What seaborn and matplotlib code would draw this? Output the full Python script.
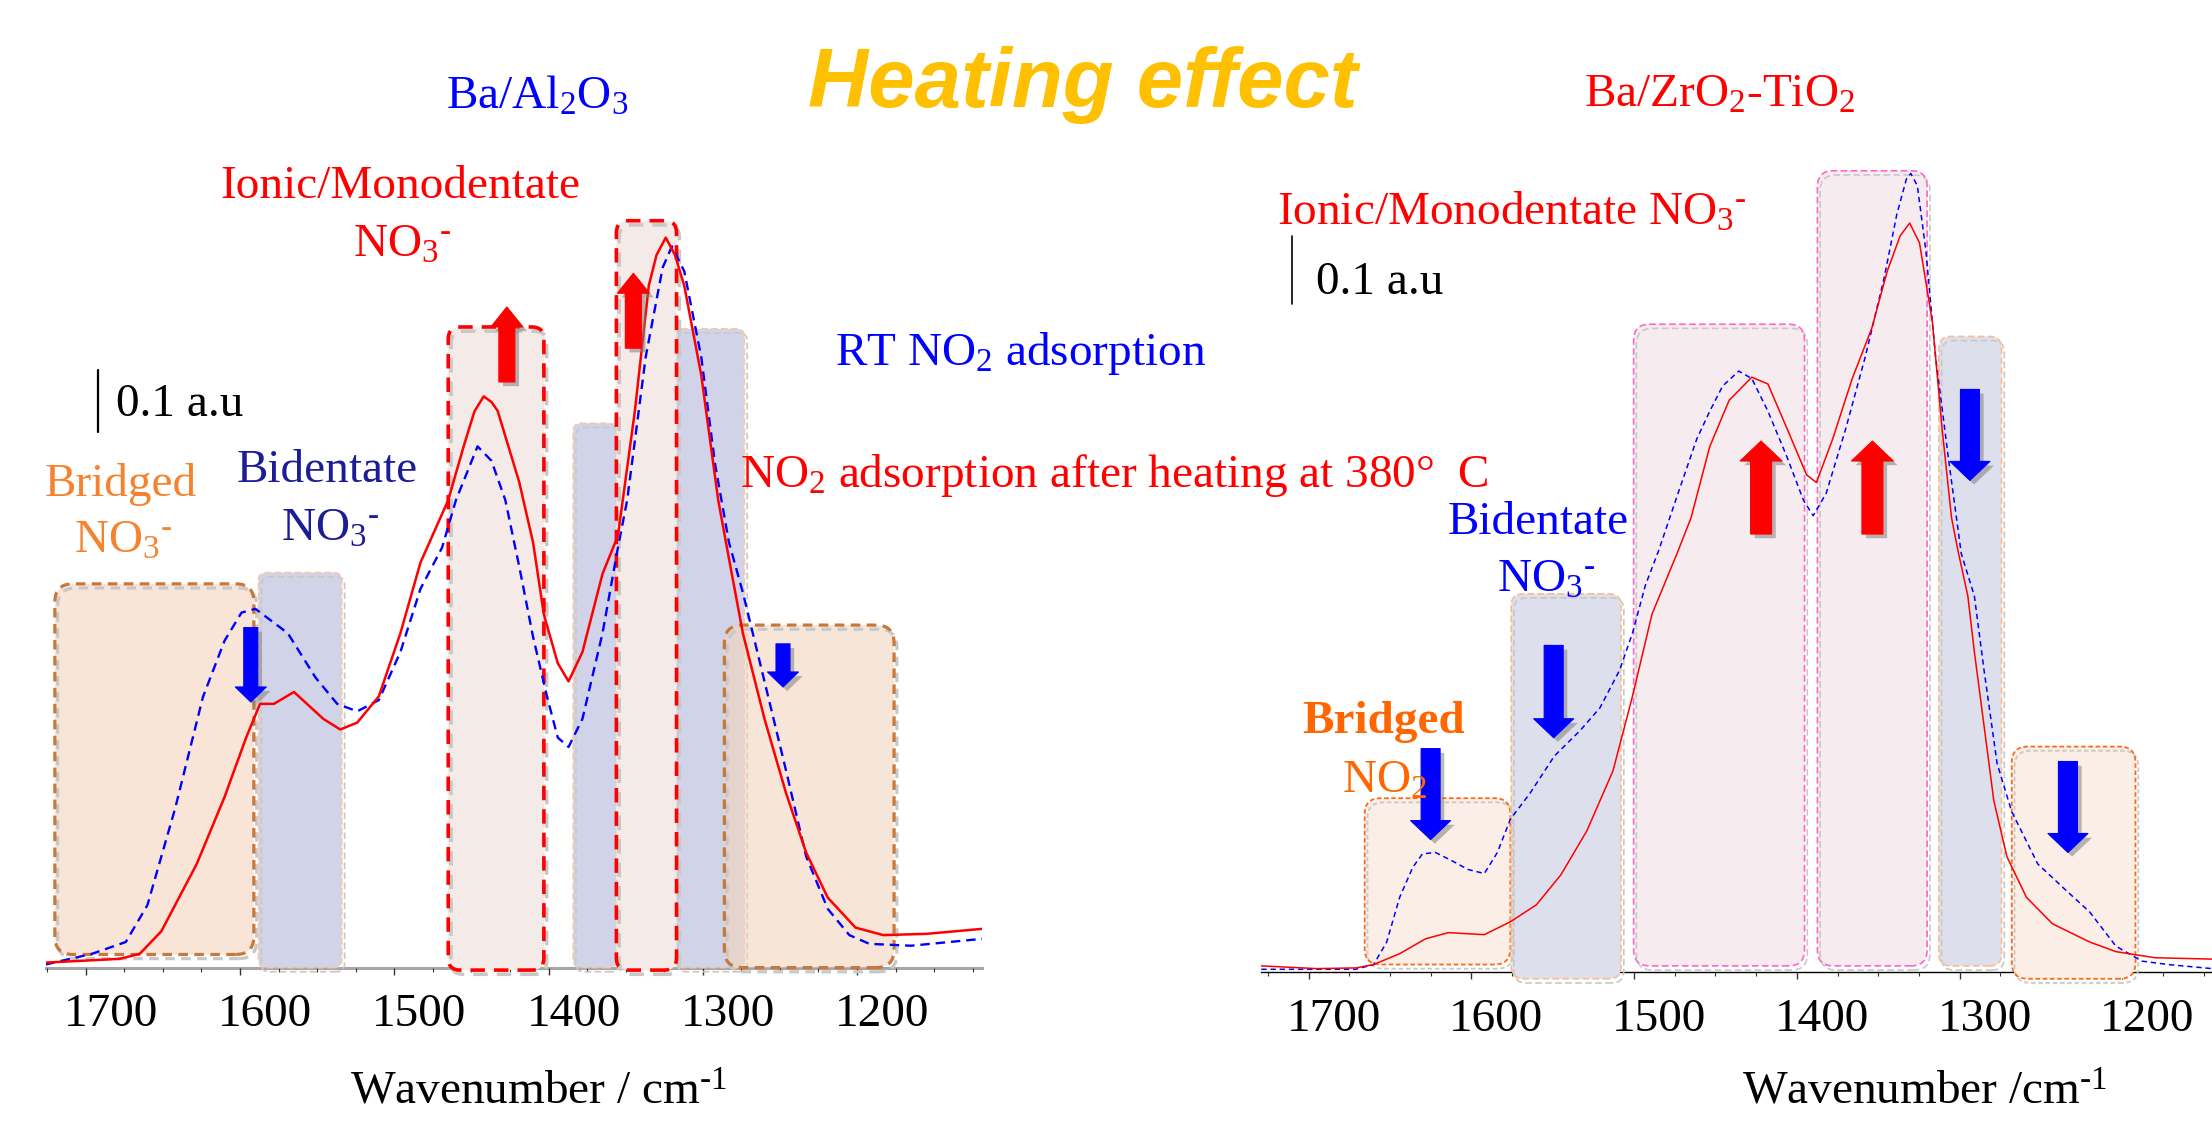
import matplotlib
matplotlib.use("Agg")
import numpy as np
import pandas as pd
import matplotlib.pyplot as plt
import seaborn as sns
from matplotlib.patches import FancyBboxPatch, FancyArrowPatch
from matplotlib.lines import Line2D
from matplotlib.ticker import MultipleLocator, FixedLocator
import matplotlib.transforms as mtransforms
import matplotlib.patheffects as pe

# ---------------- data ----------------
# Left panel: Ba/Al2O3
L_RED_WN = [1726, 1678, 1665, 1651, 1628, 1610, 1596, 1587, 1578, 1565, 1546, 1535, 1524, 1510,
            1496, 1483, 1465, 1455, 1448, 1442, 1437, 1433, 1419, 1410, 1403, 1394, 1387, 1378,
            1365, 1355, 1344, 1335, 1330, 1324, 1318, 1312, 1301, 1290, 1283, 1274, 1260, 1246,
            1233, 1219, 1201, 1183, 1155, 1119]
L_RED = [0.008, 0.014, 0.022, 0.058, 0.166, 0.273, 0.368, 0.422, 0.422, 0.441, 0.398, 0.381, 0.392, 0.434,
         0.535, 0.648, 0.748, 0.834, 0.890, 0.914, 0.905, 0.891, 0.777, 0.680, 0.565, 0.487, 0.458, 0.505,
         0.630, 0.691, 0.891, 1.091, 1.140, 1.168, 1.140, 1.091, 0.948, 0.748, 0.654, 0.535, 0.398, 0.279,
         0.184, 0.112, 0.064, 0.052, 0.054, 0.062]
L_BLUE_WN = [1726, 1696, 1674, 1660, 1642, 1624, 1610, 1599, 1590, 1569, 1551, 1537, 1524, 1510,
             1496, 1483, 1469, 1460, 1446, 1437, 1428, 1419, 1410, 1401, 1394, 1387, 1378, 1365,
             1355, 1349, 1337, 1326, 1320, 1312, 1301, 1292, 1283, 1274, 1260, 1246, 1233, 1219,
             1205, 1192, 1165, 1119]
L_BLUE = [0.005, 0.022, 0.041, 0.100, 0.255, 0.433, 0.523, 0.568, 0.574, 0.535, 0.464, 0.422, 0.410, 0.428,
          0.505, 0.606, 0.672, 0.748, 0.834, 0.811, 0.748, 0.642, 0.529, 0.434, 0.368, 0.353, 0.398, 0.535,
          0.672, 0.748, 0.977, 1.120, 1.154, 1.114, 0.977, 0.805, 0.680, 0.600, 0.458, 0.315, 0.178, 0.094,
          0.052, 0.038, 0.035, 0.046]

# Right panel: Ba/ZrO2-TiO2
R_RED_WN = [1729, 1695, 1671, 1660, 1644, 1628, 1614, 1592, 1576, 1560, 1545, 1529, 1513, 1501,
            1489, 1473, 1465, 1453.5, 1441.6, 1427.7, 1417.8, 1406, 1394, 1388, 1378, 1366, 1354,
            1344.5, 1336.6, 1330.7, 1324.7, 1316.8, 1310.8, 1305, 1301, 1295, 1291, 1285, 1279,
            1271, 1259, 1243, 1220, 1204, 1180, 1145]
R_RED = [0.009, 0.005, 0.006, 0.011, 0.027, 0.049, 0.058, 0.055, 0.074, 0.099, 0.143, 0.208, 0.296, 0.406,
         0.527, 0.620, 0.669, 0.774, 0.842, 0.876, 0.866, 0.800, 0.732, 0.721, 0.785, 0.874, 0.948,
         1.032, 1.084, 1.103, 1.074, 0.958, 0.800, 0.669, 0.620, 0.554, 0.472, 0.362, 0.252,
         0.170, 0.110, 0.071, 0.044, 0.030, 0.021, 0.019]
R_BLUE_WN = [1729, 1671, 1660, 1652, 1644, 1636, 1630, 1622, 1612, 1602, 1592, 1584, 1576, 1564,
             1549, 1533, 1521, 1509, 1501, 1493, 1485, 1473, 1461.5, 1453.5, 1445.6, 1435.7, 1427.7,
             1417.8, 1406, 1396, 1390, 1382, 1370, 1358, 1346.5, 1338.6, 1332.7, 1330, 1326, 1320.8,
             1314.8, 1307, 1299, 1291, 1285, 1277, 1268, 1252, 1235, 1220, 1204, 1188, 1172, 1145]
R_BLUE = [0.004, 0.004, 0.011, 0.044, 0.110, 0.154, 0.174, 0.176, 0.164, 0.151, 0.145, 0.176, 0.225, 0.263,
          0.318, 0.356, 0.389, 0.444, 0.499, 0.570, 0.620, 0.705, 0.785, 0.826, 0.863, 0.885, 0.874,
          0.826, 0.758, 0.695, 0.672, 0.705, 0.800, 0.906, 1.021, 1.116, 1.168, 1.176, 1.158, 1.063,
          0.906, 0.758, 0.616, 0.554, 0.444, 0.307, 0.236, 0.159, 0.121, 0.088, 0.038, 0.016, 0.011, 0.005]

TICKS = [1700, 1600, 1500, 1400, 1300, 1200]
TICK_LABELS = ["1700", "1600", "1500", "1400", "1300", "1200"]

# band regions: (wn_low, wn_high, bottom, top)
L_BRIDGED = [(1591, 1720, 0.021, 0.614), (1176, 1286, 0.0, 0.548)]
L_BIDENT = [(1534, 1588, 0.0, 0.632), (1356, 1384, 0.0, 0.871), (1273, 1318, 0.0, 1.022)]
L_IONIC = [(1403, 1465, -0.004, 1.025), (1317, 1356, -0.004, 1.195)]
R_BRIDGED = [(1576, 1665.5, 0.011, 0.256), (1192, 1268, -0.010, 0.332)]
R_BIDENT = [(1508, 1575.5, -0.010, 0.557), (1274.3, 1312.8, 0.009, 0.936)]
R_IONIC = [(1395.3, 1500.3, 0.009, 0.954), (1320, 1387.4, 0.009, 1.180)]

# arrows: (wavenumber, tail, tip)
L_UP = [(1427, 0.937, 1.057), (1345, 0.991, 1.111)]
L_DOWN = [(1593, 0.544, 0.425), (1248, 0.518, 0.449)]
R_UP = [(1422, 0.645, 0.782), (1353.6, 0.645, 0.782)]
R_DOWN = [(1293.7, 0.858, 0.724), (1549.4, 0.481, 0.345), (1625, 0.329, 0.195), (1233.5, 0.310, 0.176)]

# ---------------- style ----------------
sns.set_theme(style="white")
plt.rcParams['font.family'] = ['Liberation Serif', 'DejaVu Serif']
plt.rcParams['mathtext.fontset'] = 'custom'
plt.rcParams['mathtext.rm'] = 'Liberation Serif'
plt.rcParams['mathtext.it'] = 'Liberation Serif:italic'
plt.rcParams['mathtext.bf'] = 'Liberation Serif:bold'

W, H = 2212, 1124
DPI = 100
fig = plt.figure(figsize=(W / DPI, H / DPI), dpi=DPI)
fig.patch.set_facecolor("white")


def fx(px):
    return px / W


def fy(py):
    return 1 - py / H


FS = 34

# axes
L_BASE, R_BASE, TOP = 967.6, 972.0, 60.0
axL = fig.add_axes([fx(45.6), fy(L_BASE), fx(982) - fx(45.6), (L_BASE - TOP) / H])
axR = fig.add_axes([fx(1261.3), fy(R_BASE), fx(2212) - fx(1261.3), (R_BASE - TOP) / H])
L_YPP = 1 / 625.0   # a.u. per pixel
R_YPP = 1 / 679.0
L_XPP = 100 / 154.3  # wavenumber per pixel
R_XPP = 100 / 162.9
axL.set_xlim(1726, 1119)
axL.set_ylim(0, (L_BASE - TOP) * L_YPP)
axR.set_xlim(1729, 1145)
axR.set_ylim(0, (R_BASE - TOP) * R_YPP)

SHADOW = [pe.SimplePatchShadow(offset=(2, -2), shadow_rgbFace='#9A9A9A', alpha=0.5), pe.Normal()]


def add_box(ax, band, fc, ec, lw, ls, xpp, ypp, r_px=14, alpha=1.0, z=1):
    lo, hi, bot, top = band
    rx = r_px * xpp
    face = matplotlib.colors.to_rgba(fc, alpha)
    # fill
    p = FancyBboxPatch((lo, bot), hi - lo, top - bot,
                       boxstyle=f"round,pad=0,rounding_size={rx}",
                       mutation_aspect=ypp / xpp, fc=face, ec="none",
                       zorder=z, clip_on=False)
    ax.add_patch(p)
    # dashed outline with a soft grey shadow
    q = FancyBboxPatch((lo, bot), hi - lo, top - bot,
                       boxstyle=f"round,pad=0,rounding_size={rx}",
                       mutation_aspect=ypp / xpp, fc="none", ec=ec, lw=lw, ls=ls,
                       zorder=z + 0.1, clip_on=False)
    q.set_path_effects([pe.Stroke(offset=(2, -3), foreground="#C8C8C8", linewidth=lw), pe.Normal()])
    ax.add_patch(q)


def add_arrow(ax, a, color, tail_w, head_w, head_l):
    wn, tail, tip = a
    arr = FancyArrowPatch((wn, tail), (wn, tip),
                          arrowstyle=f"simple,head_length={head_l},head_width={head_w},tail_width={tail_w}",
                          mutation_scale=72 / DPI, fc=color, ec=color, lw=0.8,
                          shrinkA=0, shrinkB=0, zorder=6, clip_on=False)
    arr.set_path_effects([pe.SimplePatchShadow(offset=(3, -3), shadow_rgbFace='#808080', alpha=0.55),
                          pe.Normal()])
    ax.add_patch(arr)


# ---- left panel boxes ----
add_box(axL, L_BRIDGED[0], "#F8E5D8", "#C8783A", 2.3, (0, (3, 2)), L_XPP, L_YPP, r_px=18, z=1)
for b in L_BIDENT:
    add_box(axL, b, "#D1D3E8", "#F7C9A2", 1.2, (0, (4, 2)), L_XPP, L_YPP, r_px=8, z=1)
for b in L_IONIC:
    add_box(axL, b, "#F4EAE7", "#FF0000", 2.6, (0, (4, 2.5)), L_XPP, L_YPP, r_px=12, z=1.5)
add_box(axL, L_BRIDGED[1], (243 / 255, 212 / 255, 190 / 255), "#C8783A", 2.3, (0, (3, 2)),
        L_XPP, L_YPP, r_px=18, alpha=0.6, z=2)

# ---- right panel boxes ----
for b in R_BRIDGED:
    add_box(axR, b, "#FAEEE6", "#FF6A10", 1.3, (0, (2.5, 1.5)), R_XPP, R_YPP, r_px=16, z=1)
for b in R_BIDENT:
    add_box(axR, b, "#DEDFEC", "#F9BE8C", 1.2, (0, (4, 2)), R_XPP, R_YPP, r_px=12, z=1)
for b in R_IONIC:
    add_box(axR, b, "#F6ECEF", "#FF66CC", 1.2, (0, (4, 2)), R_XPP, R_YPP, r_px=16, z=1)

# ---- curves ----
dfL_r = pd.DataFrame({"wn": L_RED_WN, "a": L_RED})
dfL_b = pd.DataFrame({"wn": L_BLUE_WN, "a": L_BLUE})
dfR_r = pd.DataFrame({"wn": R_RED_WN, "a": R_RED})
dfR_b = pd.DataFrame({"wn": R_BLUE_WN, "a": R_BLUE})

sns.lineplot(data=dfL_b, x="wn", y="a", ax=axL, color="#0000FF", lw=1.7, sort=False, estimator=None, zorder=3)
axL.lines[-1].set_linestyle((0, (4, 2.5)))
sns.lineplot(data=dfL_r, x="wn", y="a", ax=axL, color="#FF0000", lw=1.8, sort=False, estimator=None, zorder=4)
sns.lineplot(data=dfR_b, x="wn", y="a", ax=axR, color="#0000FF", lw=1.1, sort=False, estimator=None, zorder=3)
axR.lines[-1].set_linestyle((0, (3.5, 2.5)))
sns.lineplot(data=dfR_r, x="wn", y="a", ax=axR, color="#FF0000", lw=1.1, sort=False, estimator=None, zorder=4)

# ---- arrows ----
for a in L_UP:
    add_arrow(axL, a, "#FF0000", 16, 32, 20)
for a in L_DOWN:
    add_arrow(axL, a, "#0000FF", 14, 31, 15)
for a in R_UP:
    add_arrow(axR, a, "#FF0000", 21, 42, 20)
for a in R_DOWN:
    add_arrow(axR, a, "#0000FF", 19, 40, 19)

# ---- axes styling ----
for ax, spc, slw in ((axL, "#A6A6A6", 2.2), (axR, "#000000", 1.0)):
    ax.set_facecolor("none")
    for s in ("left", "right", "top"):
        ax.spines[s].set_visible(False)
    ax.spines["bottom"].set_color(spc)
    ax.spines["bottom"].set_linewidth(slw)
    ax.spines["bottom"].set_zorder(0.5)
    ax.set_yticks([])
    ax.xaxis.set_major_locator(FixedLocator(TICKS))
    ax.set_xticklabels(TICK_LABELS)
    ax.xaxis.set_minor_locator(MultipleLocator(25))
    ax.tick_params(axis="x", which="major", direction="out", length=5, width=1, color="#333333",
                   labelsize=FS, labelcolor="black", pad=14, bottom=True)
    ax.tick_params(axis="x", which="minor", direction="out", length=3, width=0.8, color="#333333", bottom=True)
    ax.set_xlabel("")
    ax.set_ylabel("")
    off = mtransforms.ScaledTranslation(25 / DPI, 0, fig.dpi_scale_trans)
    for lab in ax.get_xticklabels():
        lab.set_transform(lab.get_transform() + off)
        lab.set_fontfamily(['Liberation Serif'])

# ---- texts ----
def T(x, y, s, color, ha="center", size=FS, **kw):
    fig.text(fx(x), fy(y), s, color=color, ha=ha, va="baseline", fontsize=size, **kw)


NO3 = r"NO$_3$$^{\text{-}}$"

T(1083, 107, "Heating effect", "#FFC000", size=60, fontfamily=["Liberation Sans"],
  fontweight="bold", fontstyle="italic")

T(537, 109, r"Ba/Al$_2$O$_3$", "#0000FF")
T(400, 198, "Ionic/Monodentate", "#FF0000")
T(402, 257, NO3, "#FF0000")
T(116, 416, "0.1 a.u", "black", ha="left")
T(835, 365, r"RT NO$_2$ adsorption", "#0000FF", ha="left")
T(740, 487, "NO$_2$ adsorption after heating at 380\u00b0  C", "#FF0000", ha="left")
T(327, 482, "Bidentate", "#1C1C96")
T(330, 541, NO3, "#1C1C96")
T(121, 496, "Bridged", "#F5822E")
T(123, 553, NO3, "#F5822E")
T(538, 1104, r"Wavenumber / cm$^{\text{-1}}$", "black")

T(1720, 107, r"Ba/ZrO$_2$-TiO$_2$", "#FF0000")
T(1277, 225, r"Ionic/Monodentate NO$_3$$^{\text{-}}$", "#FF0000", ha="left")
T(1316, 293.6, "0.1 a.u", "black", ha="left")
T(1538, 534, "Bidentate", "#0000FF")
T(1497, 592, NO3, "#0000FF", ha="left")
T(1384, 733, "Bridged", "#FF6600", fontweight="bold")
T(1342, 793, r"NO$_2$", "#FF6600", ha="left")
T(1925, 1104, r"Wavenumber /cm$^{\text{-1}}$", "black")

# scale bars (0.1 a.u.)
fig.add_artist(Line2D([fx(98), fx(98)], [fy(369.6), fy(432)], color="black", lw=1.6))
fig.add_artist(Line2D([fx(1292), fx(1292)], [fy(235.7), fy(303.6)], color="black", lw=1.2))

fig.savefig("out.png", dpi=DPI, facecolor="white")
